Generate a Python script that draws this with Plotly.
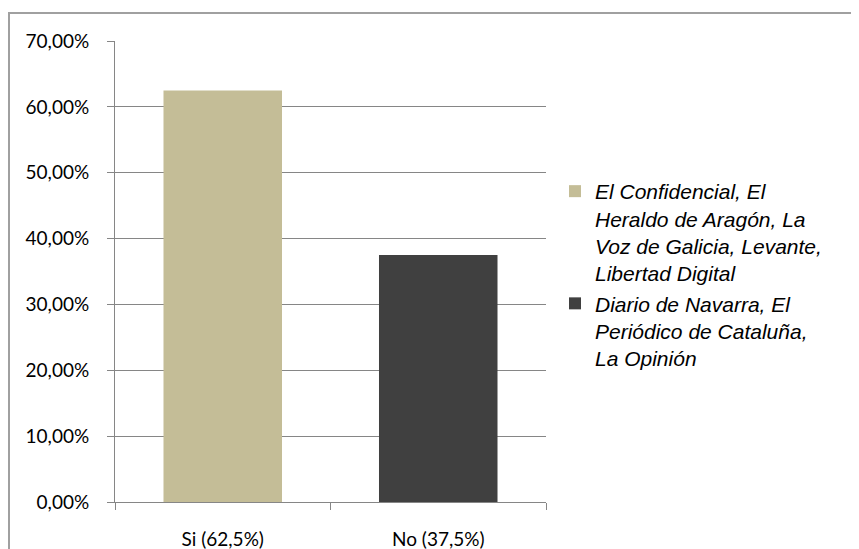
import plotly.graph_objects as go

categories = ["Si (62,5%)", "No (37,5%)"]
series_names = [
    "El Confidencial, El<br>Heraldo de Aragón, La<br>Voz de Galicia, Levante,<br>Libertad Digital",
    "Diario de Navarra, El<br>Periódico de Cataluña,<br>La Opinión",
]
values = [0.625, 0.375]
colors = ["#C4BD97", "#404040"]
y_ticks = [0, 0.1, 0.2, 0.3, 0.4, 0.5, 0.6, 0.7]

# page body offset (default html body margin)
OFF = 8
W, H = 859 - OFF, 549 - OFF
# plot area in page pixels: x 115..546, y 41..502
L, T = 115 - OFF, 41 - OFF
R = W - (546 - OFF)
B = H - (502 - OFF)
pw, ph = W - L - R, H - T - B

def px_x(p):  # page pixel -> paper
    return (p - OFF - L) / pw

def px_y(p):
    return (H - B - (p - OFF)) / ph

fig = go.Figure()
for i in range(len(categories)):
    fig.add_trace(go.Bar(
        x=[categories[i]], y=[values[i]], name=series_names[i],
        marker=dict(color=colors[i], line=dict(width=0)), width=0.55,
    ))

fig.update_layout(
    width=W, height=H,
    margin=dict(l=L, r=R, t=T, b=B, autoexpand=False),
    paper_bgcolor="white", plot_bgcolor="white",
    barmode="overlay",
    separators=",.",
    showlegend=True,
    legend=dict(
        x=px_x(555), y=px_y(171), xanchor="left", yanchor="top",
        valign="top", tracegroupgap=16,
        font=dict(family="Liberation Sans, Arial, sans-serif", size=21, color="#000000", style="italic"),
        bgcolor="rgba(0,0,0,0)",
    ),
    xaxis=dict(
        type="category", tickson="boundaries", showgrid=False, automargin=False,
        showline=True, linecolor="#868686", linewidth=1,
        ticks="outside", ticklen=7, tickcolor="#868686",
        tickfont=dict(family="Lato, Carlito, sans-serif", size=19, color="#000000"),
        ticklabelstandoff=20,
    ),
    yaxis=dict(
        range=[0, 0.7], tickvals=y_ticks, tickformat=".2%", automargin=False,
        showgrid=True, gridcolor="#868686", gridwidth=1,
        showline=True, linecolor="#868686", linewidth=1,
        ticks="outside", ticklen=7, tickcolor="#868686",
        tickfont=dict(family="Lato, Carlito, sans-serif", size=19, color="#000000"),
        ticklabelstandoff=14, zeroline=False,
    ),
    shapes=[dict(
        type="rect", xref="paper", yref="paper",
        x0=px_x(9), x1=px_x(880), y0=px_y(13), y1=px_y(580),
        line=dict(color="#A0A0A0", width=2), fillcolor="rgba(0,0,0,0)", layer="below",
    )],
)

fig.write_html("out.html")
